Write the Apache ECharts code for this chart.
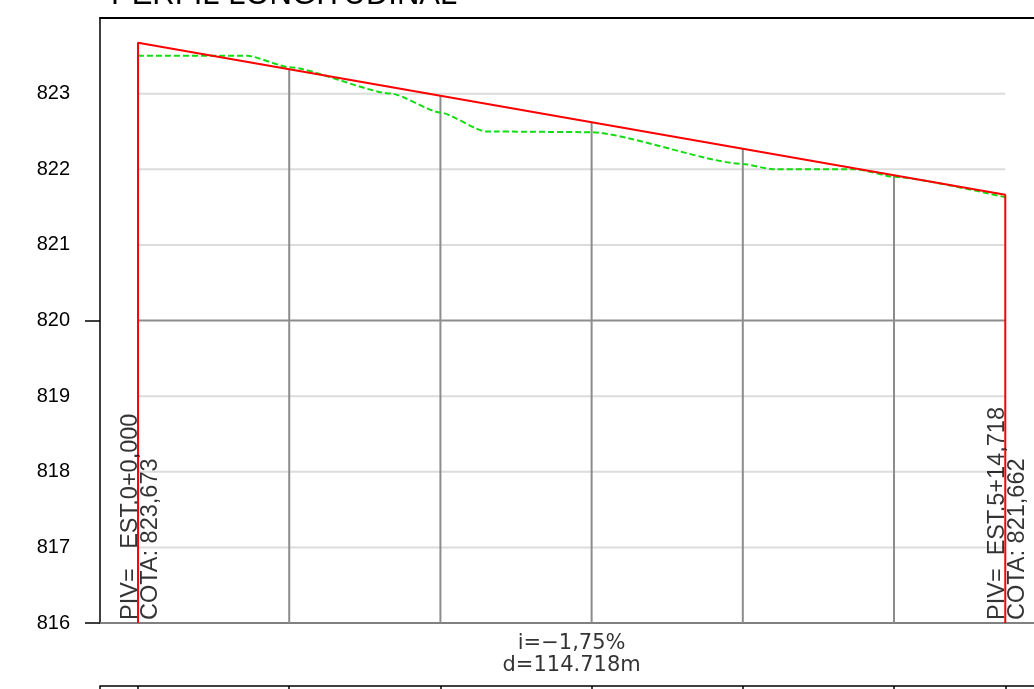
<!DOCTYPE html>
<html>
<head>
<meta charset="utf-8">
<title>Perfil longitudinal</title>
<script src="https://cdn.jsdelivr.net/npm/echarts@6/dist/echarts.min.js"></script>
<style>
  html, body { margin: 0; padding: 0; background: #fff; }
  #chart { width: 1034px; height: 689px; }
</style>
</head>
<body>
<div id="chart"></div>
<script>
// datos del perfil
var yTicks = [816, 817, 818, 819, 820, 821, 822, 823];
var stations = [20, 40, 60, 80, 100];                          // estacas intermedias
var gradeAtStations = [823.323, 822.973, 822.623, 822.273, 821.923];
var pivStation = [0, 114.718];
var pivElev = [823.673, 821.662];
var pivLabels = ['PIV=   EST.0+0,000', 'PIV=  EST.5+14,718'];
var cotaLabels = ['COTA: 823,673', 'COTA: 821,662'];
var terrainX = [0, 14.5, 20, 33.5, 40, 46, 60, 80, 84, 95, 100, 114.718];
var terrainY = [823.5, 823.5, 823.35, 823.0, 822.75, 822.5, 822.49, 822.07, 822.0, 822.0, 821.9, 821.63];
var slopeText = 'i=\u22121,75%';
var distText = 'd=114.718m';

var XMIN = -5.03, XMAX = 125;      // el marco sigue fuera de la imagen
var END = pivStation[1];

var series = [];

// lineas horizontales solo dentro del tramo
yTicks.forEach(function (l) {
    if (l === yTicks[0]) return;
    series.push({
        type: 'line', xAxisIndex: 0, yAxisIndex: 0, silent: true, symbol: 'none', z: 1,
        lineStyle: { color: l === 820 ? '#8c8c8c' : '#dcdcdc', width: 2 },
        data: [[pivStation[0], l], [END, l]]
    });
});

// verticales de las estacas
stations.forEach(function (s, i) {
    series.push({
        type: 'line', xAxisIndex: 0, yAxisIndex: 0, silent: true, symbol: 'none', z: 2,
        lineStyle: { color: '#8c8c8c', width: 2 },
        data: [[s, yTicks[0]], [s, gradeAtStations[i]]]
    });
});

// terreno natural
series.push({
    type: 'line', xAxisIndex: 0, yAxisIndex: 0, symbol: 'none', z: 3,
    smooth: 0.2, smoothMonotone: 'x',
    lineStyle: { color: '#11dd11', width: 2, type: [6, 3] },
    data: terrainX.map(function (x, i) { return [x, terrainY[i]]; })
});

// rasante
series.push({
    type: 'line', xAxisIndex: 0, yAxisIndex: 0, symbol: 'none', z: 4,
    lineStyle: { color: '#ff0000', width: 2 },
    data: [
        [pivStation[0], yTicks[0]], [pivStation[0], pivElev[0]],
        [pivStation[1], pivElev[1]], [pivStation[1], yTicks[0]]
    ]
});

// textos verticales de los PIV
series.push({
    type: 'scatter', xAxisIndex: 0, yAxisIndex: 0, symbolSize: 0, z: 5,
    label: {
        show: true, position: 'inside', rotate: 90, align: 'left', verticalAlign: 'middle',
        offset: [3, 2],
        fontFamily: 'Liberation Sans', fontSize: 23.5, lineHeight: 20, color: '#000',
        formatter: function (p) { return pivLabels[p.dataIndex] + '\n' + cotaLabels[p.dataIndex]; }
    },
    data: pivStation.map(function (s) { return [s, yTicks[0]]; })
});

// pendiente y distancia
series.push({
    type: 'scatter', xAxisIndex: 2, yAxisIndex: 1, symbolSize: 0,
    label: {
        show: true, position: 'inside', align: 'center', verticalAlign: 'middle',
        fontFamily: 'DejaVu Sans', fontSize: 21, lineHeight: 22, color: '#000',
        formatter: slopeText + '\n' + distText
    },
    data: [[END / 2, 0.5]]
});

var option = {
    animation: false,
    backgroundColor: '#fff',
    title: {
        text: 'PERFIL LONGITUDINAL', left: 106, top: -25,
        textStyle: { fontFamily: 'Liberation Sans', fontSize: 31, fontWeight: 'normal', color: '#000' }
    },
    grid: [
        { left: 100, top: 18, height: 605, width: 983, outerBoundsMode: 'none' },
        { left: 100, top: 623, height: 63, width: 983, outerBoundsMode: 'none' }
    ],
    xAxis: [
        {
            type: 'value', gridIndex: 0, min: XMIN, max: XMAX, position: 'bottom',
            axisLine: { onZero: false, lineStyle: { color: '#808080', width: 2 } },
            axisTick: { show: false }, axisLabel: { show: false }, splitLine: { show: false }
        },
        {
            type: 'value', gridIndex: 0, min: XMIN, max: XMAX, position: 'top',
            axisLine: { onZero: false, lineStyle: { color: '#000', width: 2 } },
            axisTick: { show: false }, axisLabel: { show: false }, splitLine: { show: false }
        },
        {
            type: 'value', gridIndex: 1, min: XMIN, max: XMAX, position: 'bottom',
            axisLine: { onZero: false, lineStyle: { color: '#000', width: 1.5 } },
            axisTick: { show: true, length: 4, customValues: [XMIN].concat([0], stations, [END]),
                        lineStyle: { color: '#000', width: 1.5 } },
            axisLabel: { show: false }, splitLine: { show: false }
        }
    ],
    yAxis: [
        {
            type: 'value', gridIndex: 0, min: 816, max: 824, interval: 1,
            axisLine: { show: true, onZero: false, lineStyle: { color: '#000', width: 1.5 } },
            axisTick: { show: true, length: 15, customValues: [816, 820], lineStyle: { color: '#000', width: 1.5 } },
            axisLabel: { customValues: yTicks, margin: 30, fontFamily: 'Liberation Sans', fontSize: 20, color: '#000' },
            splitLine: { show: false }
        },
        {
            type: 'value', gridIndex: 1, min: 0, max: 1, show: false
        }
    ],
    series: series
};

var myChart = echarts.init(document.getElementById('chart'));
myChart.setOption(option);
</script>
</body>
</html>
